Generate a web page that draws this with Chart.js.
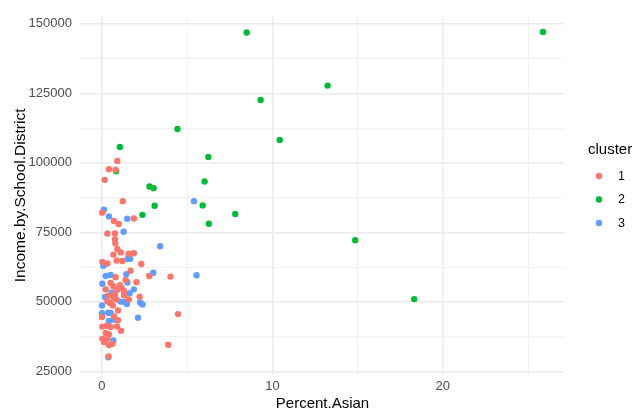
<!DOCTYPE html>
<html>
<head>
<meta charset="utf-8">
<script src="https://cdn.jsdelivr.net/npm/chart.js@4/dist/chart.umd.min.js"></script>
<style>
  html, body { margin: 0; padding: 0; background: #ffffff; }
  #wrap { width: 642px; height: 416px; }
</style>
</head>
<body>
<div id="wrap"><canvas id="c" width="642" height="416"></canvas></div>
<script>
// Percent of Asian residents vs. school-district income, grouped by cluster
const clusterNames = ['1', '2', '3'];
const clusterColors = ['#F8766D', '#00BA38', '#619CFF'];

const cluster1X = [0.90, 0.41, 0.80, 0.16, 1.22, 0.01, 0.70, 0.98, 1.87, 0.32, 0.76, 0.76, 0.78, 0.90, 1.10, 0.67, 1.56, 1.87,
  0.02, 0.32, 0.86, 1.20, 2.31, 0.80, 1.39, 1.68, 2.77, 4.02, 0.51, 0.67, 1.05, 2.02, 0.22, 0.90, 1.15, 1.29, 0.76, 1.29,
  0.37, 2.21, 1.58, 0.70, 0.85, 0.32, 0.47, 0.64, 0.94, 4.46, 0.00, 0.70, 0.94, 0.02, 0.28, 0.51, 0.88, 1.12, 0.22, 0.41,
  0.02, 0.32, 0.12, 0.41, 0.61, 3.89, 0.39];
const cluster1Y = [100700, 97700, 97500, 93900, 86200, 82100, 79100, 78000, 80000, 74600, 74600, 72500, 71100, 69000, 67800, 67000, 67300, 67500,
  64400, 63800, 64900, 64700, 63600, 58900, 57900, 61200, 59300, 59100, 56800, 55600, 56000, 57100, 54500, 54400, 55000, 53900, 52700, 52400,
  52200, 51900, 50900, 51300, 50900, 50100, 49600, 48700, 46900, 45600, 44600, 44800, 43400, 41100, 41400, 41000, 41200, 39600, 38800, 38400,
  36700, 36800, 35600, 34500, 34900, 34600, 30400];

const cluster2X = [8.49, 25.88, 9.31, 13.24, 4.43, 10.43, 1.05, 6.24, 0.83, 2.79, 3.03, 6.02, 3.09, 5.91, 2.37, 7.82, 6.27, 14.86, 18.32];
const cluster2Y = [146900, 147100, 122600, 127800, 112200, 108200, 105700, 102100, 97000, 91500, 90900, 93300, 84600, 84700, 81300, 81600, 78100, 72200, 51000];

const cluster3X = [0.12, 0.41, 1.48, 5.40, 1.27, 3.41, 1.51, 1.65, 0.08, 0.22, 0.51, 1.43, 3.01, 5.55, 0.02, 1.49, 1.87, 0.57,
  1.62, 0.18, 1.10, 1.33, 1.46, 2.24, 2.38, 0.00, 0.00, 0.37, 0.51, 2.11, 0.67, 0.41, 0.67, 0.37];
const cluster3Y = [83200, 80700, 79900, 86200, 75200, 70000, 65400, 65500, 63000, 59300, 59700, 60000, 60500, 59600, 56500, 57000, 54500, 53300,
  53100, 51800, 50100, 50000, 49200, 49800, 49100, 48700, 45900, 46100, 46000, 44300, 43600, 43100, 36100, 30100];

const xTicks = [0, 5, 10, 15, 20, 25];
const yTicks = [25000, 37500, 50000, 62500, 75000, 87500, 100000, 112500, 125000, 137500, 150000];

const xSeries = [cluster1X, cluster2X, cluster3X];
const ySeries = [cluster1Y, cluster2Y, cluster3Y];

const datasets = clusterNames.map((name, i) => ({
  label: name,
  data: xSeries[i].map((x, k) => ({ x: x, y: ySeries[i][k] })),
  backgroundColor: clusterColors[i],
  borderWidth: 0,
  pointRadius: 3.2,
  pointHoverRadius: 3.2
}));

const GRID = '#EBEBEB';
const FONT = '"Liberation Sans", Arial, Helvetica, sans-serif';

// ggplot-style legend on the right side
const sideLegend = {
  id: 'sideLegend',
  afterDraw(chart) {
    const ctx = chart.ctx;
    ctx.save();
    ctx.fillStyle = '#000000';
    ctx.font = '15px ' + FONT;
    ctx.textAlign = 'left';
    ctx.textBaseline = 'middle';
    ctx.fillText('cluster', 588, 150);
    ctx.font = '12.5px ' + FONT;
    chart.data.datasets.forEach((ds, i) => {
      const y = 176 + i * 23.5;
      ctx.beginPath();
      ctx.fillStyle = ds.backgroundColor;
      ctx.arc(599, y, 3.2, 0, Math.PI * 2);
      ctx.fill();
      ctx.fillStyle = '#000000';
      ctx.fillText(ds.label, 618, y + 0.5);
    });
    ctx.restore();
  }
};

new Chart(document.getElementById('c'), {
  type: 'scatter',
  data: { datasets: datasets },
  plugins: [sideLegend],
  options: {
    responsive: false,
    devicePixelRatio: 1,
    animation: false,
    layout: { padding: { top: 4.3, right: 77, bottom: 0, left: 0 } },
    plugins: { legend: { display: false }, tooltip: { enabled: false } },
    scales: {
      x: {
        type: 'linear',
        min: -1.29,
        max: 27.17,
        afterBuildTicks: (scale) => { scale.ticks = xTicks.map(v => ({ value: v })); },
        afterFit: (scale) => { scale.height = 41; },
        border: { display: false },
        grid: {
          drawTicks: false,
          color: GRID,
          lineWidth: (c) => (c.tick && c.tick.value % 10 === 0 ? 1.5 : 0.7)
        },
        ticks: {
          autoSkip: false,
          maxRotation: 0,
          padding: 4,
          color: '#4D4D4D',
          font: { family: FONT, size: 13 },
          callback: (v) => (v % 10 === 0 ? String(v) : '')
        },
        title: {
          display: true,
          text: 'Percent.Asian',
          color: '#000000',
          font: { family: FONT, size: 15 },
          padding: { top: 0, bottom: 3 }
        }
      },
      y: {
        type: 'linear',
        min: 23700,
        max: 152900,
        afterBuildTicks: (scale) => { scale.ticks = yTicks.map(v => ({ value: v })); },
        afterFit: (scale) => { scale.width = 80; },
        border: { display: false },
        grid: {
          drawTicks: false,
          color: GRID,
          lineWidth: (c) => (c.tick && c.tick.value % 25000 === 0 ? 1.5 : 0.7)
        },
        ticks: {
          autoSkip: false,
          padding: 8,
          color: '#4D4D4D',
          font: { family: FONT, size: 13 },
          callback: (v) => (v % 25000 === 0 ? String(v) : '')
        },
        title: {
          display: true,
          text: 'Income.by.School.District',
          color: '#000000',
          font: { family: FONT, size: 15.5 },
          padding: { top: 11, bottom: 0 }
        }
      }
    }
  }
});
</script>
</body>
</html>
